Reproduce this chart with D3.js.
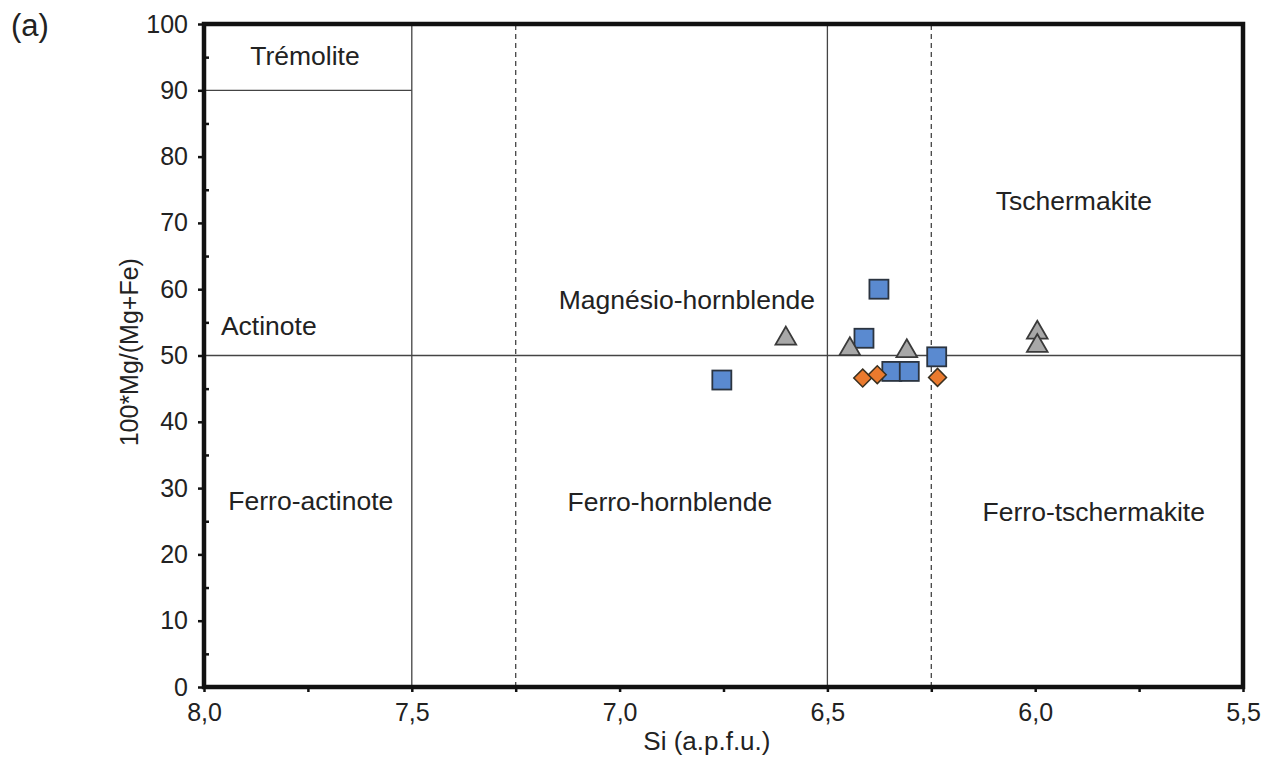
<!DOCTYPE html>
<html>
<head>
<meta charset="utf-8">
<script src="https://cdn.jsdelivr.net/npm/d3@7"></script>
<style>
  html, body { margin: 0; padding: 0; background: #fff; }
  svg { display: block; }
  text { font-family: "Liberation Sans", Arial, sans-serif; fill: #222; }
</style>
</head>
<body>
<svg id="chart" width="1271" height="762"></svg>
<script>
// Amphibole analyses: Si (a.p.f.u.) vs 100*Mg/(Mg+Fe)
const squareSi  = [6.754, 6.376, 6.412, 6.345, 6.303, 6.237];
const squareMg  = [46.3, 60.0, 52.6, 47.6, 47.6, 49.8];
const triangleSi = [6.600, 6.446, 6.309, 5.995, 5.995];
const triangleMg = [52.7, 51.1, 50.8, 53.6, 51.6];
const diamondSi = [6.415, 6.380, 6.235];
const diamondMg = [46.6, 47.1, 46.7];

const xTicks = [8.0, 7.5, 7.0, 6.5, 6.0, 5.5];
const xMinorTicks = [7.75, 7.25, 6.75, 6.25, 5.75];
const yTicks = [0, 10, 20, 30, 40, 50, 60, 70, 80, 90, 100];
const yMinorTicks = [5, 15, 25, 35, 45, 55, 65, 75, 85, 95];

// Classification field names and their anchor points (Si, Mg#)
const fieldNames = ["Trémolite", "Actinote", "Ferro-actinote", "Magnésio-hornblende",
                    "Ferro-hornblende", "Tschermakite", "Ferro-tschermakite"];
const fieldSi = [7.757, 7.844, 7.743, 6.838, 6.879, 5.907, 5.859];
const fieldMg = [94.9, 54.1, 27.8, 58.1, 27.6, 73.0, 26.1];

// Field boundaries: [si1, mg1, si2, mg2, dashed]
const boundaries = [
  [7.5, 0, 7.5, 100, false],
  [8.0, 90, 7.5, 90, false],
  [8.0, 50, 5.5, 50, false],
  [6.5, 0, 6.5, 100, false],
  [7.25, 0, 7.25, 100, true],
  [6.25, 0, 6.25, 100, true]
];

const W = 1271, H = 762;
const margin = { top: 24, right: 28, bottom: 75, left: 204 };
const svg = d3.select("#chart");
const g = svg.append("g").attr("transform", `translate(${margin.left},${margin.top})`);
const iw = W - margin.left - margin.right;
const ih = H - margin.top - margin.bottom;

const x = d3.scaleLinear().domain([8.0, 5.5]).range([0, iw]);
const y = d3.scaleLinear().domain([0, 100]).range([ih, 0]);

const locale = d3.formatLocale({ decimal: ",", thousands: ".", grouping: [3], currency: ["", ""] });
const fx = locale.format(".1f");

// Field boundary lines
g.selectAll("line.boundary").data(boundaries).join("line")
  .attr("class", "boundary")
  .attr("x1", d => x(d[0])).attr("y1", d => y(d[1]))
  .attr("x2", d => x(d[2])).attr("y2", d => y(d[3]))
  .attr("stroke", "#444").attr("stroke-width", 1.3)
  .attr("stroke-dasharray", d => d[4] ? "5,4" : null);

// Field labels
g.selectAll("text.field").data(fieldNames).join("text")
  .attr("class", "field")
  .attr("x", (d, i) => x(fieldSi[i]))
  .attr("y", (d, i) => y(fieldMg[i]))
  .attr("text-anchor", "middle")
  .attr("dominant-baseline", "middle")
  .attr("font-size", 26.5)
  .text(d => d);

// Axes
const xAxis = g.append("g").attr("transform", `translate(0,${ih})`)
  .call(d3.axisBottom(x).tickValues(xTicks).tickFormat(fx).tickSize(5).tickPadding(11));
const xMinor = g.append("g").attr("transform", `translate(0,${ih})`)
  .call(d3.axisBottom(x).tickValues(xMinorTicks).tickFormat("").tickSize(5));
const yAxis = g.append("g")
  .call(d3.axisLeft(y).tickValues(yTicks).tickSize(6).tickPadding(10));
const yMinor = g.append("g")
  .call(d3.axisRight(y).tickValues(yMinorTicks).tickFormat("").tickSize(5));

[xAxis, xMinor, yAxis, yMinor].forEach(a => {
  a.select(".domain").remove();
  a.selectAll(".tick line").attr("stroke", "#111").attr("stroke-width", 2.5);
  a.selectAll(".tick text").attr("font-size", 25).attr("font-family", "Liberation Sans, Arial, sans-serif").attr("fill", "#222");
});

// Plot frame
g.append("rect").attr("x", 0).attr("y", 0).attr("width", iw).attr("height", ih)
  .attr("fill", "none").attr("stroke", "#111").attr("stroke-width", 4.5);

// Axis titles
svg.append("text")
  .attr("x", margin.left + x(6.79)).attr("y", 750)
  .attr("text-anchor", "middle").attr("font-size", 26)
  .text("Si (a.p.f.u.)");
svg.append("text")
  .attr("transform", `translate(138,${margin.top + y(50.5)}) rotate(-90)`)
  .attr("text-anchor", "middle").attr("font-size", 25)
  .text("100*Mg/(Mg+Fe)");
svg.append("text")
  .attr("x", 11).attr("y", 36).attr("font-size", 31)
  .text("(a)");

// Data markers
const sqSize = 19;
g.selectAll("rect.sq").data(squareSi).join("rect")
  .attr("class", "sq")
  .attr("x", (d) => x(d) - sqSize / 2)
  .attr("y", (d, i) => y(squareMg[i]) - sqSize / 2)
  .attr("width", sqSize).attr("height", sqSize)
  .attr("fill", "#5a8ad0").attr("stroke", "#2b3440").attr("stroke-width", 1.8);

const tri = d3.symbol().type(d3.symbolTriangle).size(185);
g.selectAll("path.tri").data(triangleSi).join("path")
  .attr("class", "tri")
  .attr("transform", (d, i) => `translate(${x(d)},${y(triangleMg[i]) + 1})`)
  .attr("d", tri)
  .attr("fill", "#a8a8a8").attr("stroke", "#3a3a3a").attr("stroke-width", 1.8);

const dia = d3.symbol().type(d3.symbolSquare).size(160);
g.selectAll("path.dia").data(diamondSi).join("path")
  .attr("class", "dia")
  .attr("transform", (d, i) => `translate(${x(d)},${y(diamondMg[i])}) rotate(45)`)
  .attr("d", dia)
  .attr("fill", "#ea7a2e").attr("stroke", "#3a3020").attr("stroke-width", 1.5);
</script>
</body>
</html>
